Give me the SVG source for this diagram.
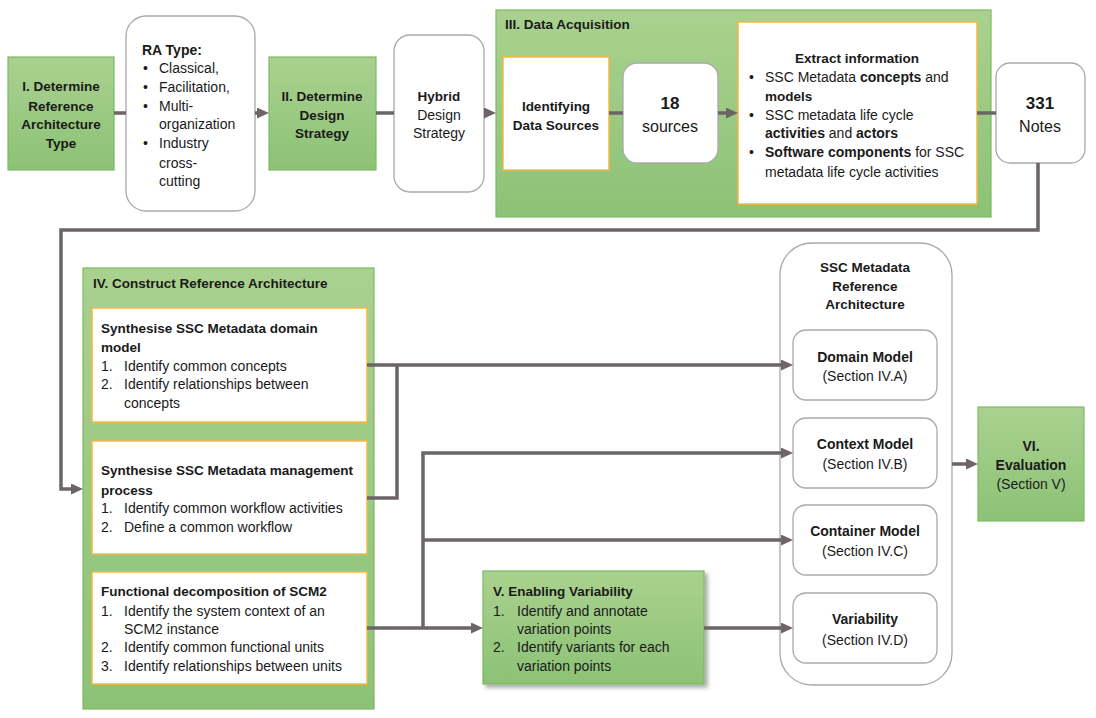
<svg xmlns="http://www.w3.org/2000/svg" width="1096" height="718" viewBox="0 0 1096 718">
<defs>
<linearGradient id="g" x1="0" y1="0" x2="0" y2="1">
<stop offset="0" stop-color="#aad18f"/>
<stop offset="1" stop-color="#8cc276"/>
</linearGradient>
<marker id="ah" viewBox="0 0 12 11" markerWidth="12" markerHeight="11" refX="3" refY="5.5" orient="auto" markerUnits="userSpaceOnUse">
<path d="M0,0 L12,5.5 L0,11 z" fill="#6b6565"/>
</marker>
<filter id="sh" x="-10%" y="-10%" width="130%" height="130%">
<feDropShadow dx="3" dy="3" stdDeviation="2" flood-color="#000" flood-opacity="0.35"/>
</filter>
</defs>
<style>
text{font-family:"Liberation Sans",Arial,sans-serif;fill:#1a1a1a;font-size:14px}
.b{font-weight:bold;font-size:13.5px}
.b14{font-size:14px}
.c{text-anchor:middle}
.green{fill:url(#g);stroke:#7db964;stroke-width:1.2}
.wo{fill:#fff;stroke:#f5b940;stroke-width:1.5}
.rd{fill:#fff;stroke:#a9a9a9;stroke-width:1.3}
.big{font-size:16px}
.num{font-weight:bold;font-size:17px}
.conn path{fill:none;stroke:#6b6565;stroke-width:3.5}
</style>
<rect width="1096" height="718" fill="#fff"/>

<g id="step1">
<rect class="green" x="8" y="57" width="106" height="113"/>
<text class="b c" x="61" y="91">I. Determine</text>
<text class="b c" x="61" y="111">Reference</text>
<text class="b c" x="61" y="129">Architecture</text>
<text class="b c" x="61" y="148">Type</text>
</g>

<g id="ratype">
<rect class="rd" x="126" y="16" width="129" height="195" rx="20"/>
<text class="b b14" x="142" y="55">RA Type:</text>
<text x="143" y="73">•</text><text x="159" y="73">Classical,</text>
<text x="143" y="92">•</text><text x="159" y="92">Facilitation,</text>
<text x="143" y="111">•</text><text x="159" y="111">Multi-</text>
<text x="159" y="129">organization</text>
<text x="143" y="148">•</text><text x="159" y="148">Industry</text>
<text x="159" y="168">cross-</text>
<text x="159" y="186">cutting</text>
</g>

<g id="step2">
<rect class="green" x="269" y="57" width="107" height="113"/>
<text class="b c" x="322" y="101">II. Determine</text>
<text class="b c" x="322" y="120">Design</text>
<text class="b c" x="322" y="138">Strategy</text>
</g>

<g id="hybrid">
<rect class="rd" x="394" y="35" width="90" height="157" rx="16"/>
<text class="b c" x="439" y="101">Hybrid</text>
<text class="c" x="439" y="120">Design</text>
<text class="c" x="439" y="138">Strategy</text>
</g>

<g id="step3">
<rect class="green" x="496" y="10" width="495" height="207"/>
<text class="b" x="505" y="29">III. Data Acquisition</text>
</g>

<g id="identifying">
<rect class="wo" x="503" y="57" width="106" height="113"/>
<text class="b c" x="556" y="111">Identifying</text>
<text class="b c" x="556" y="130">Data Sources</text>
</g>

<g id="sources">
<rect class="rd" x="623" y="63" width="95" height="100" rx="14"/>
<text class="num c" x="670" y="109">18</text>
<text class="c big" x="670" y="132">sources</text>
</g>

<g id="extract">
<rect class="wo" x="738" y="22" width="239" height="182"/>
<text class="b c" x="857" y="63">Extract information</text>
<text x="749" y="82">•</text><text x="765" y="82">SSC Metadata <tspan font-weight="bold">concepts</tspan> and</text>
<text class="b" x="765" y="101">models</text>
<text x="749" y="120">•</text><text x="765" y="120">SSC metadata life cycle</text>
<text x="765" y="138"><tspan font-weight="bold">activities</tspan> and <tspan font-weight="bold">actors</tspan></text>
<text x="749" y="157">•</text><text x="765" y="157"><tspan font-weight="bold">Software components</tspan> for SSC</text>
<text x="765" y="177">metadata life cycle activities</text>
</g>

<g id="notes">
<rect class="rd" x="996" y="63" width="89" height="100" rx="14"/>
<text class="num c" x="1040" y="109">331</text>
<text class="c big" x="1040" y="132">Notes</text>
</g>

<g id="step4">
<rect class="green" x="83" y="268" width="291" height="441"/>
<text class="b" x="93" y="288">IV. Construct Reference Architecture</text>
</g>

<g id="domainSynth">
<rect class="wo" x="92" y="308" width="275" height="114"/>
<text class="b" x="101" y="333">Synthesise SSC Metadata domain</text>
<text class="b" x="101" y="352">model</text>
<text x="101" y="371">1.</text><text x="124" y="371">Identify common concepts</text>
<text x="101" y="389">2.</text><text x="124" y="389">Identify relationships between</text>
<text x="124" y="408">concepts</text>
</g>

<g id="processSynth">
<rect class="wo" x="92" y="441" width="275" height="113"/>
<text class="b" x="101" y="475">Synthesise SSC Metadata management</text>
<text class="b" x="101" y="495">process</text>
<text x="101" y="513">1.</text><text x="124" y="513">Identify common workflow activities</text>
<text x="101" y="532">2.</text><text x="124" y="532">Define a common workflow</text>
</g>

<g id="functional">
<rect class="wo" x="92" y="572" width="275" height="112"/>
<text class="b" x="101" y="596">Functional decomposition of SCM2</text>
<text x="101" y="616">1.</text><text x="124" y="616">Identify the system context of an</text>
<text x="124" y="634">SCM2 instance</text>
<text x="101" y="652">2.</text><text x="124" y="652">Identify common functional units</text>
<text x="101" y="671">3.</text><text x="124" y="671">Identify relationships between units</text>
</g>

<g id="step5">
<rect class="green" x="483" y="571" width="221" height="113" filter="url(#sh)"/>
<text class="b" x="493" y="596">V. Enabling Variability</text>
<text x="493" y="616">1.</text><text x="517" y="616">Identify and annotate</text>
<text x="517" y="634">variation points</text>
<text x="493" y="652">2.</text><text x="517" y="652">Identify variants for each</text>
<text x="517" y="671">variation points</text>
</g>

<g id="ssc-ra">
<rect class="rd" x="780" y="243" width="172" height="442" rx="32"/>
<text class="b c" x="865" y="272">SSC Metadata</text>
<text class="b c" x="865" y="291">Reference</text>
<text class="b c" x="865" y="309">Architecture</text>
</g>

<g id="domainModel">
<rect class="rd" x="793" y="330" width="144" height="70" rx="13"/>
<text class="b b14 c" x="865" y="362">Domain Model</text>
<text class="c" x="865" y="381">(Section IV.A)</text>
</g>

<g id="contextModel">
<rect class="rd" x="793" y="418" width="144" height="70" rx="13"/>
<text class="b b14 c" x="865" y="449">Context Model</text>
<text class="c" x="865" y="469">(Section IV.B)</text>
</g>

<g id="containerModel">
<rect class="rd" x="793" y="505" width="144" height="70" rx="13"/>
<text class="b b14 c" x="865" y="536">Container Model</text>
<text class="c" x="865" y="556">(Section IV.C)</text>
</g>

<g id="variability">
<rect class="rd" x="793" y="593" width="144" height="70" rx="13"/>
<text class="b b14 c" x="865" y="624">Variability</text>
<text class="c" x="865" y="645">(Section IV.D)</text>
</g>

<g id="step6">
<rect class="green" x="978" y="407" width="106" height="114"/>
<text class="b b14 c" x="1031" y="451">VI.</text>
<text class="b b14 c" x="1031" y="470">Evaluation</text>
<text class="c" x="1031" y="489">(Section V)</text>
</g>

<g id="connectors" class="conn">
<path d="M114,113 H126"/>
<path d="M255,113 H260" marker-end="url(#ah)"/>
<path d="M376,113 H394"/>
<path d="M484,113 H487" marker-end="url(#ah)"/>
<path d="M609,113 H623"/>
<path d="M718,113 H729" marker-end="url(#ah)"/>
<path d="M977,113 H996"/>
<path d="M1038,163 V230 H61 V489 H74" marker-end="url(#ah)"/>
<path d="M367,365 H784" marker-end="url(#ah)"/>
<path d="M367,498 H397 V365"/>
<path d="M367,628 H474" marker-end="url(#ah)"/>
<path d="M423,628 V453 H784" marker-end="url(#ah)"/>
<path d="M423,540 H784" marker-end="url(#ah)"/>
<path d="M704,628 H784" marker-end="url(#ah)"/>
<path d="M952,464 H969" marker-end="url(#ah)"/>
</g>
</svg>
